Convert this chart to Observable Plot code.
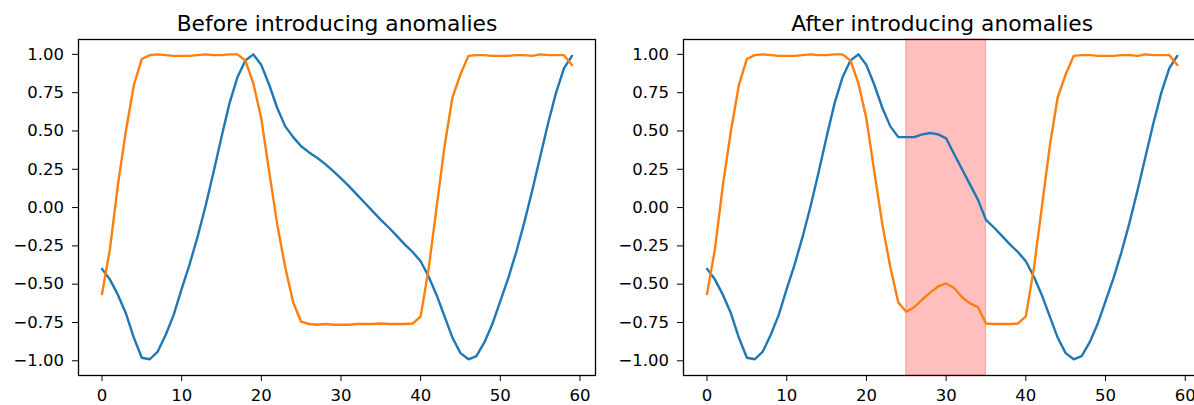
<!DOCTYPE html>
<html><head><meta charset="utf-8">
<script src="https://cdn.jsdelivr.net/npm/d3@7"></script>
<script src="https://cdn.jsdelivr.net/npm/@observablehq/plot@0.6"></script>
<style>
body{margin:0;background:#fff;}
#wrap{position:relative;width:1194px;height:405px;overflow:hidden;background:#fff;}
#wrap > div{position:absolute;top:0;}
#wrap svg{max-width:none !important;display:block;}
</style></head><body>
<div id="wrap"><div id="left" style="left:0px;width:597px"></div><div id="right" style="left:597px;width:610px"></div></div>
<script>
// ---- data ----
const titles = ["Before introducing anomalies", "After introducing anomalies"];
const xTicks = [0, 10, 20, 30, 40, 50, 60];
const yTicks = [-1.0, -0.75, -0.5, -0.25, 0.0, 0.25, 0.5, 0.75, 1.0];

const blueBefore = [
  -0.40, -0.47, -0.57, -0.69, -0.85, -0.98, -0.99, -0.94, -0.83, -0.70,
  -0.53, -0.37, -0.19, 0.01, 0.23, 0.46, 0.68, 0.85, 0.96, 1.00,
  0.93, 0.80, 0.65, 0.53, 0.46, 0.40, 0.36, 0.325, 0.285, 0.24,
  0.19, 0.14, 0.085, 0.03, -0.025, -0.08, -0.13, -0.185, -0.24, -0.29,
  -0.35, -0.45, -0.57, -0.71, -0.85, -0.95, -0.99, -0.97, -0.88, -0.76,
  -0.61, -0.46, -0.29, -0.10, 0.11, 0.33, 0.55, 0.75, 0.91, 0.99
];
const orangeBefore = [
  -0.565, -0.27, 0.15, 0.50, 0.80, 0.97, 0.995, 1.0, 0.995, 0.99,
  0.99, 0.99, 0.995, 1.0, 0.995, 0.995, 1.0, 1.0, 0.96, 0.81,
  0.58, 0.23, -0.11, -0.39, -0.62, -0.745, -0.76, -0.765, -0.76, -0.765,
  -0.765, -0.765, -0.76, -0.76, -0.76, -0.757, -0.76, -0.76, -0.76, -0.757,
  -0.71, -0.40, 0.0, 0.40, 0.72, 0.87, 0.99, 0.995, 0.995, 0.99,
  0.99, 0.99, 0.995, 0.995, 0.99, 1.0, 0.995, 0.995, 0.995, 0.93
];
// anomaly window [25, 35) and replaced values
const anomalySpan = [{start: 25, end: 35}];
const blueAnomaly = [0.46, 0.46, 0.478, 0.487, 0.478, 0.452, 0.35, 0.25, 0.15, 0.05];
const orangeAnomaly = [-0.68, -0.65, -0.60, -0.555, -0.515, -0.495, -0.525, -0.585, -0.625, -0.65];

// ---- build tables ----
function withAnomaly(base, repl, start) {
  const out = base.slice();
  repl.forEach((v, k) => { out[start + k] = v; });
  return out;
}
const blueAfter = withAnomaly(blueBefore, blueAnomaly, anomalySpan[0].start);
const orangeAfter = withAnomaly(orangeBefore, orangeAnomaly, anomalySpan[0].start);
const toRows = arr => arr.map((v, i) => ({i, v}));

const BLUE = "#1f77b4", ORANGE = "#ff7f0e";
const fmt = d3.format(".2f");

function panel(title, blue, orange, spans, width, marginLeft, marginRight) {
  const marks = [];
  if (spans) {
    marks.push(Plot.rect(spans, {x1: "start", x2: "end", fill: "red", fillOpacity: 0.25, stroke: "red", strokeOpacity: 0.25, strokeWidth: 1.3}));
  }
  marks.push(
    Plot.line(toRows(blue), {x: "i", y: "v", stroke: BLUE, strokeWidth: 2.4}),
    Plot.line(toRows(orange), {x: "i", y: "v", stroke: ORANGE, strokeWidth: 2.4}),
    Plot.frame({stroke: "#000", strokeWidth: 1.3}),
    Plot.text([title], {text: d => d, frameAnchor: "top", lineAnchor: "bottom", dy: -9, fontSize: 21.8, fill: "#000"})
  );
  return Plot.plot({
    width, height: 405,
    marginLeft, marginRight, marginTop: 39, marginBottom: 30,
    style: {fontFamily: "DejaVu Sans", fontSize: "16.5px", color: "#000", background: "white", overflow: "visible"},
    x: {domain: [-2.95, 61.95], ticks: xTicks, tickFormat: d => String(d), tickSize: 6, tickPadding: 8, label: null},
    y: {domain: [-1.096, 1.097], ticks: yTicks, tickFormat: fmt, tickSize: 6, tickPadding: 8.5, label: null},
    marks
  });
}

document.getElementById("left").appendChild(panel(titles[0], blueBefore, orangeBefore, null, 597, 78, 2));
document.getElementById("right").appendChild(panel(titles[1], blueAfter, orangeAfter, anomalySpan, 610, 86, 6.7));
</script>
</body></html>
